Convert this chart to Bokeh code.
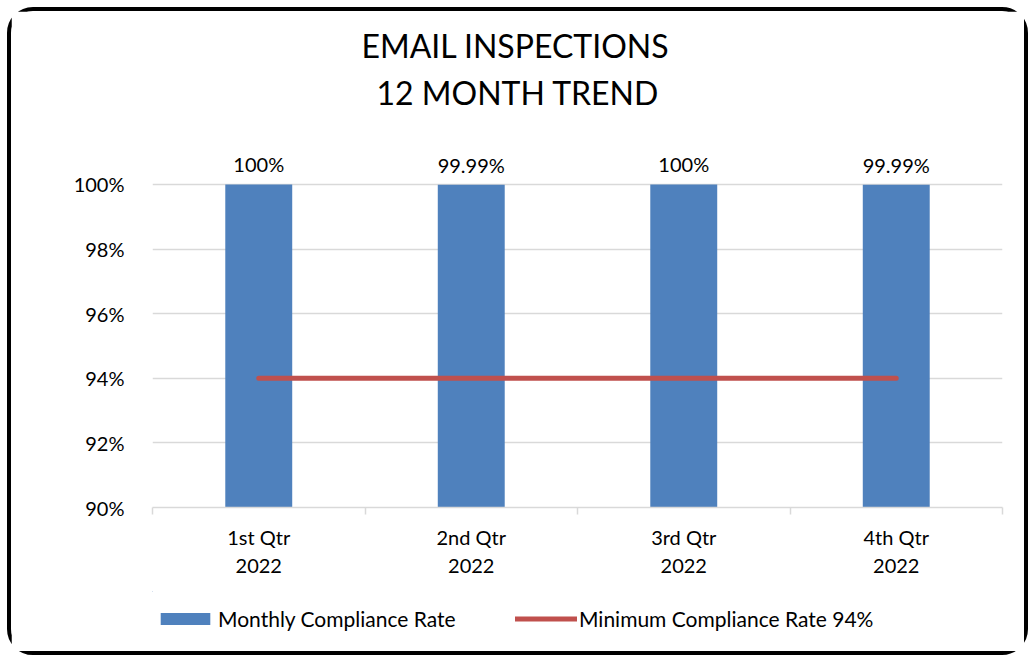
from bokeh.plotting import figure
from bokeh.layouts import column
from bokeh.models import (ColumnDataSource, Range1d, FixedTicker, Legend, LegendItem,
                          LabelSet, Title)
from bokeh.core.properties import value
from bokeh.embed import file_html
from bokeh.resources import INLINE

# ---- data ----
quarters = ["1st Qtr\n2022", "2nd Qtr\n2022", "3rd Qtr\n2022", "4th Qtr\n2022"]
compliance = [100.0, 99.99, 100.0, 99.99]
minimum_rate = [94, 94, 94, 94]
y_ticks = [90, 92, 94, 96, 98, 100]

title_lines = ["EMAIL INSPECTIONS", "12 MONTH TREND"]
series_names = ["Monthly Compliance Rate", "Minimum Compliance Rate 94%"]

FONT = "Lato"
BLUE = "#4f81bd"
RED = "#c0504d"
GRID = "#d9d9d9"
W = 1013

xs = list(range(len(quarters)))
labels = [("%g" % v) + "%" for v in compliance]
src = ColumnDataSource(dict(x=xs, top=compliance, lbl=labels, mn=minimum_rate))

p = figure(frame_width=850, frame_height=365, output_backend="svg", toolbar_location=None,
           x_range=Range1d(-0.5, len(quarters) - 0.5), y_range=Range1d(90, 101.3),
           min_border_left=141, min_border_right=22, min_border_top=131,
           min_border_bottom=84)
p.outline_line_color = None
p.background_fill_color = "white"
p.border_fill_color = "white"

bars = p.vbar(x="x", top="top", bottom=90, width=0.315, source=src,
              fill_color=BLUE, line_color=None)
line = p.line(x="x", y="mn", source=src, line_color=RED, line_width=5, line_cap="round")

p.add_layout(LabelSet(x="x", y="top", text="lbl", source=src, text_align="center",
                      text_baseline="bottom", y_offset=8, text_font=value(FONT),
                      text_font_size="20px", text_color="black"))

# y axis
p.yaxis.ticker = FixedTicker(ticks=y_ticks)
p.yaxis.major_label_overrides = {t: "%d%%" % t for t in y_ticks}
p.yaxis.axis_line_color = None
p.yaxis.major_tick_line_color = None
p.yaxis.minor_tick_line_color = None
p.yaxis.major_label_text_font = FONT
p.yaxis.major_label_text_font_size = "20px"
p.yaxis.major_label_text_color = "black"
p.yaxis.major_label_standoff = 22
p.ygrid.grid_line_color = GRID
p.ygrid.grid_line_width = 1.5

# x axis
p.xaxis.ticker = FixedTicker(ticks=xs, minor_ticks=[x - 0.5 for x in xs] + [xs[-1] + 0.5])
p.xaxis.major_label_overrides = {x: q for x, q in zip(xs, quarters)}
p.xaxis.axis_line_color = GRID
p.xaxis.axis_line_width = 1.5
p.xaxis.major_tick_line_color = None
p.xaxis.minor_tick_line_color = GRID
p.xaxis.minor_tick_line_width = 1.5
p.xaxis.minor_tick_in = 0
p.xaxis.minor_tick_out = 7
p.xaxis.major_label_text_font = FONT
p.xaxis.major_label_text_font_size = "20px"
p.xaxis.major_label_text_color = "black"
p.xaxis.major_label_standoff = 10
p.xgrid.grid_line_color = None

# title: a thin spacer nearest the frame, then the two title lines
has_standoff = "standoff" in Title.properties()
spacer = Title(text=" ", text_font_size="2px")
if has_standoff:
    spacer.standoff = 24
p.add_layout(spacer, "above")
for t, off in [(title_lines[1], 224), (title_lines[0], 209)]:
    ttl = Title(text=t, align="left", offset=off, text_font=FONT,
                text_font_size="32px", text_font_style="normal", text_color="black")
    if has_standoff:
        ttl.standoff = 6
    p.add_layout(ttl, "above")

# legend strip below the chart (its renderers use the same data, fully out of view)
lg = figure(width=W, height=60, output_backend="svg", toolbar_location=None,
            x_range=Range1d(100, 101), y_range=Range1d(0, 1),
            x_axis_location=None, y_axis_location=None, min_border=0)
lg.outline_line_color = None
lg.background_fill_color = "white"
lg.border_fill_color = "white"
lg.xgrid.grid_line_color = None
lg.ygrid.grid_line_color = None
lb = lg.vbar(x="x", top="top", bottom=90, width=0.315, source=src,
             fill_color=BLUE, line_color=None)
ll = lg.line(x="x", y="mn", source=src, line_color=RED, line_width=5, line_cap="round")
legend = Legend(items=[LegendItem(label=series_names[0], renderers=[lb]),
                       LegendItem(label=series_names[1], renderers=[ll])],
                orientation="horizontal", location=(2, 20),
                label_text_font=FONT, label_text_font_size="21px",
                label_text_color="black", glyph_width=62, glyph_height=15,
                label_width=250, spacing=47, padding=6, margin=0, label_standoff=2,
                border_line_color=None, background_fill_alpha=0)
lg.add_layout(legend, "center")

layout = column(p, lg, spacing=0,
                styles={"border": "4px solid black", "border-radius": "26px",
                        "margin": "7px 0 0 7px", "background": "white"})

open("out.html", "w").write(file_html(layout, INLINE))
